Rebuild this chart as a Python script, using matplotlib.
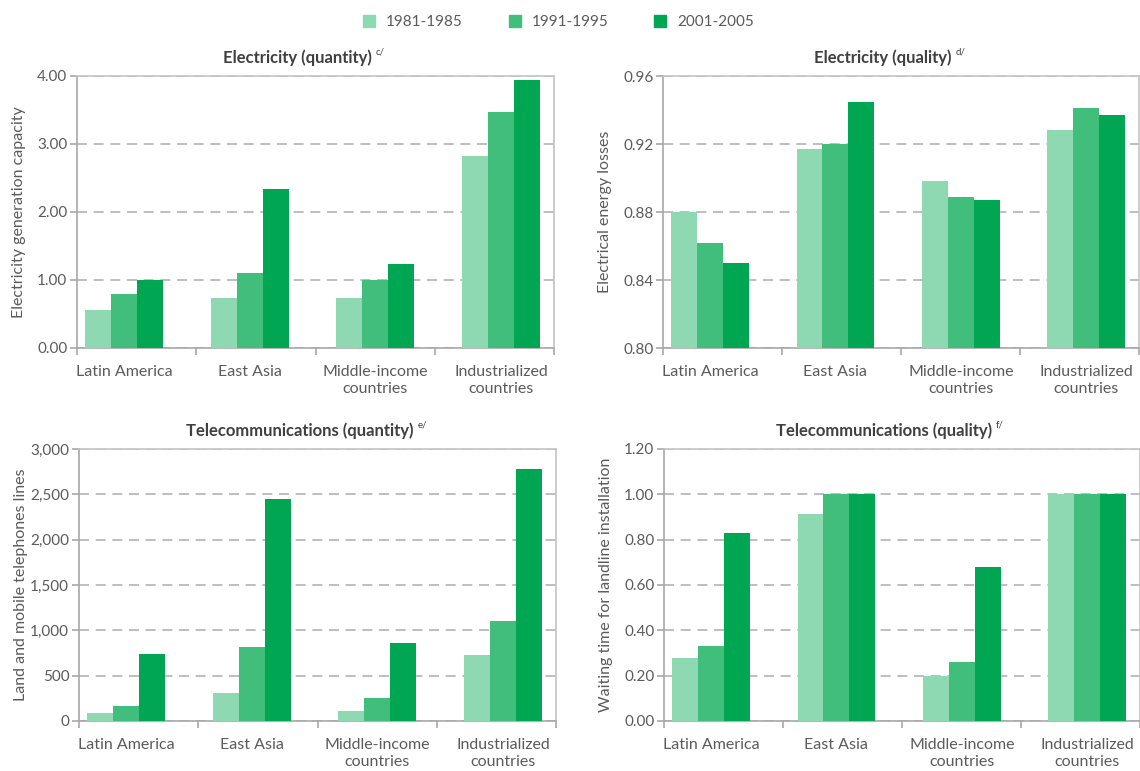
import numpy as np
import matplotlib
matplotlib.use("Agg")
import matplotlib.pyplot as plt
from matplotlib.lines import Line2D
from matplotlib.ticker import FuncFormatter

plt.rcParams["font.family"] = ["Lato", "DejaVu Sans"]

periods = ["1981-1985", "1991-1995", "2001-2005"]
colors = ["#8ed9b1", "#41be7c", "#00a651"]
regions = ["Latin America", "East Asia", "Middle-income\ncountries", "Industrialized\ncountries"]

# values per period: [Latin America, East Asia, Middle-income, Industrialized]
elec_qty = [[0.56, 0.73, 0.73, 2.83],
            [0.80, 1.11, 1.00, 3.47],
            [1.00, 2.34, 1.24, 3.94]]
elec_qual = [[0.880, 0.917, 0.898, 0.928],
             [0.862, 0.920, 0.889, 0.941],
             [0.850, 0.945, 0.887, 0.937]]
tel_qty = [[90, 310, 110, 730],
           [170, 820, 250, 1100],
           [740, 2450, 860, 2780]]
tel_qual = [[0.28, 0.915, 0.20, 1.00],
            [0.33, 1.00, 0.26, 1.00],
            [0.83, 1.00, 0.68, 1.00]]

panels = [
    dict(data=elec_qty, title="Electricity (quantity)", note="c/",
         ylabel="Electricity generation capacity", ylim=(0, 4), step=1.0,
         fmt="{:.2f}", rect=(77, 348, 477)),
    dict(data=elec_qual, title="Electricity (quality)", note="d/",
         ylabel="Electrical energy losses", ylim=(0.80, 0.96), step=0.04,
         fmt="{:.2f}", rect=(663, 348, 476)),
    dict(data=tel_qty, title="Telecommunications (quantity)", note="e/",
         ylabel="Land and mobile telephones lines", ylim=(0, 3000), step=500,
         fmt="{:,.0f}", rect=(79, 721, 477)),
    dict(data=tel_qual, title="Telecommunications (quality)", note="f/",
         ylabel="Waiting time for landline installation", ylim=(0, 1.2), step=0.2,
         fmt="{:.2f}", rect=(664, 721, 476)),
]

W, H = 1140, 771
fig = plt.figure(figsize=(W / 100, H / 100), dpi=100)

text_col = "#5b5b5b"
spine_col = "#a8a8a8"
bw = 0.218
centers = np.arange(len(regions)) * 1.054 - 0.105

for p in panels:
    left, bottom, width = p["rect"]
    ax = fig.add_axes([left / W, 1 - bottom / H, width / W, 272 / H])
    for i in range(3):
        ax.bar(centers + (i - 1) * bw, p["data"][i], width=bw, color=colors[i],
               zorder=3)
    ax.set_xlim(-0.5, 3.5)
    lo, hi = p["ylim"]
    ax.set_ylim(lo, hi)
    ax.set_yticks(np.arange(lo, hi + p["step"] / 2, p["step"]))
    fmt = p["fmt"]
    ax.yaxis.set_major_formatter(FuncFormatter(lambda v, pos, f=fmt: f.format(v)))
    ax.yaxis.grid(True, linestyle=(0, (6, 4)), color="#b3b3b3", linewidth=1.2, zorder=0)
    ax.set_axisbelow(True)

    ax.set_xticks(centers)
    ax.set_xticklabels(regions, linespacing=1.3)
    ax.set_xticks(np.arange(-0.5, 3.6, 1.0), minor=True)
    ax.tick_params(axis="x", which="major", length=0, pad=12, labelsize=11.5,
                   labelcolor=text_col)
    ax.tick_params(axis="x", which="minor", length=5, width=1.2, color=spine_col)
    ax.tick_params(axis="y", length=5, width=1.2, color=spine_col, pad=2,
                   labelsize=11, labelcolor=text_col)
    for s in ["left", "bottom"]:
        ax.spines[s].set_color(spine_col)
        ax.spines[s].set_linewidth(1.2)
    for s in ["top", "right"]:
        ax.spines[s].set_color("#c4c4c4")
        ax.spines[s].set_linewidth(1.2)

    ax.set_ylabel(p["ylabel"], fontsize=11.5, color=text_col)
    ax.yaxis.set_label_coords(-51 / width, 0.5)

    t = ax.text(0.5 - 18 / width, 1.068, p["title"], transform=ax.transAxes,
                ha="center", va="center", fontsize=12, fontweight="bold",
                color="#404040")
    ax.annotate(p["note"], xy=(1, 1), xycoords=t, xytext=(3, 1),
                textcoords="offset points", fontsize=7, color="#404040",
                ha="left", va="top")

handles = [Line2D([], [], marker="s", linestyle="none", markersize=8,
                  markerfacecolor=c, markeredgecolor=c) for c in colors]
fig.legend(handles, periods, loc="center", bbox_to_anchor=(0.489, 1 - 22 / H),
           ncol=3, frameon=False, fontsize=11, labelcolor=text_col,
           columnspacing=2.9, handletextpad=0.6, handlelength=1.0)

fig.savefig("out.png", dpi=100)
